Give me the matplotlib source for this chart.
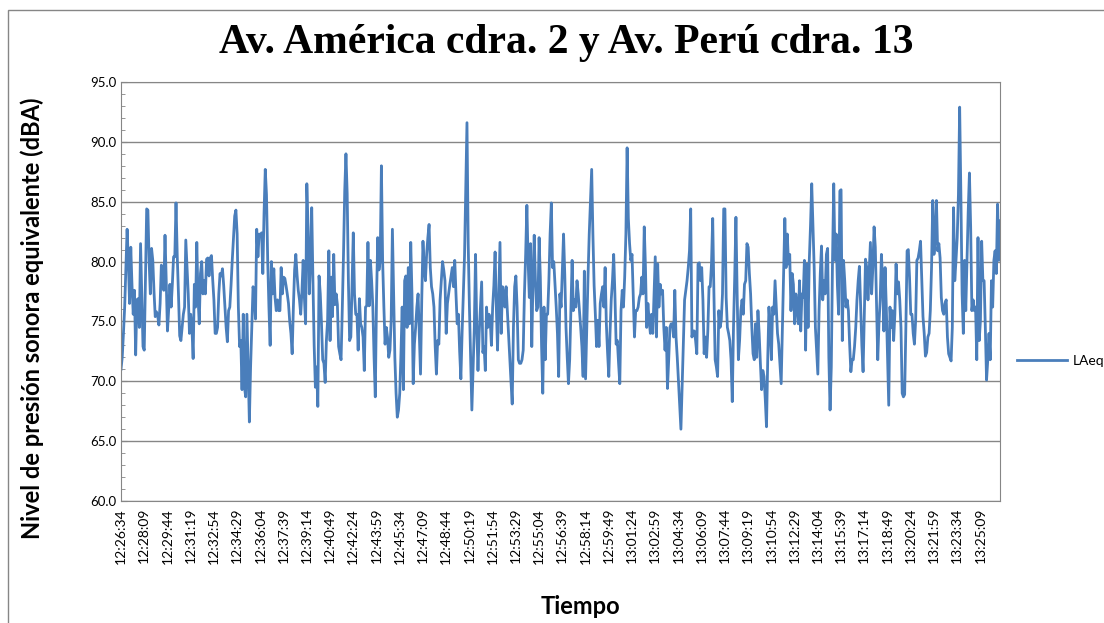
import matplotlib.pyplot as plt
import pandas as pd
from matplotlib.patches import Rectangle
from matplotlib.ticker import MultipleLocator

# LAeq readings, one every 5 s starting 12:26:34
laeq = [
    71.0, 72.0, 74.0, 76.2, 79.5, 82.7, 80.1, 76.5, 81.2, 78.0, 75.6, 77.6, 72.2, 76.8, 76.9, 74.5,
    81.5, 77.0, 72.9, 72.6, 78.5, 84.4, 84.3, 80.0, 77.3, 81.1, 80.1, 77.5, 75.4, 75.8, 75.5, 74.7,
    76.5, 79.7, 78.5, 77.6, 82.2, 78.4, 74.2, 76.0, 78.1, 76.2, 78.1, 80.4, 80.4, 84.9, 80.5, 77.3,
    73.8, 73.4, 74.5, 75.6, 76.2, 81.8, 79.5, 77.3, 74.0, 75.6, 74.5, 71.9, 78.1, 76.2, 81.6, 77.0,
    74.8, 79.0, 80.0, 77.3, 78.4, 77.3, 80.2, 80.3, 78.8, 80.3, 80.5, 78.5, 76.8, 74.0, 74.0, 74.5,
    77.3, 79.0, 78.8, 79.4, 78.0, 76.2, 74.5, 73.3, 75.9, 76.2, 78.0, 80.1, 82.0, 83.8, 84.3, 82.3,
    76.2, 72.9, 73.4, 69.3, 75.6, 69.5, 68.7, 75.6, 70.9, 66.6, 71.2, 74.5, 77.9, 77.3, 75.2, 82.7,
    80.4, 82.3, 82.2, 82.4, 79.0, 84.0, 87.7, 85.6, 80.1, 76.2, 73.0, 80.0, 77.3, 79.4, 77.0, 75.9,
    76.8, 75.9, 75.9, 79.5, 77.3, 78.7, 78.6, 78.0, 77.3, 76.5, 75.0, 74.0, 72.3, 76.2, 79.3, 80.6,
    78.9, 77.6, 76.8, 75.6, 77.5, 80.1, 77.0, 74.8, 86.5, 82.9, 77.3, 80.0, 84.5, 78.4, 73.0, 69.5,
    71.2, 67.9, 78.8, 77.3, 74.8, 71.8, 71.5, 69.9, 73.4, 75.1, 80.9, 73.4, 78.7, 75.4, 80.6, 76.4,
    77.3, 76.4, 72.9, 72.3, 71.8, 76.0, 80.6, 85.9, 89.0, 85.7, 78.4, 73.4, 73.7, 78.0, 82.4, 77.3,
    75.6, 75.6, 72.6, 76.9, 74.8, 74.5, 73.7, 70.9, 76.2, 76.3, 81.6, 76.3, 80.1, 78.4, 76.2, 72.0,
    68.7, 76.8, 82.0, 79.3, 80.1, 88.0, 80.1, 76.3, 73.1, 74.5, 73.7, 72.0, 72.6, 75.1, 82.7, 77.3,
    72.0, 69.0, 67.0, 67.6, 69.0, 72.3, 76.2, 69.3, 78.4, 78.8, 74.5, 79.5, 74.8, 81.6, 77.3, 69.8,
    73.1, 74.5, 76.2, 77.3, 74.0, 70.6, 76.8, 81.7, 79.5, 78.4, 80.6, 82.0, 83.1, 79.5, 77.9, 77.3,
    76.2, 72.9, 70.6, 73.4, 73.1, 76.8, 78.4, 80.0, 79.3, 78.4, 74.0, 76.5, 77.3, 78.1, 78.8, 79.5,
    77.9, 80.1, 77.3, 74.8, 75.6, 72.5, 70.2, 74.0, 77.3, 80.5, 85.9, 91.6, 81.5, 76.2, 71.8, 67.6,
    71.0, 74.5, 80.6, 74.5, 70.9, 74.0, 76.2, 78.3, 72.4, 72.9, 70.9, 76.2, 74.5, 75.6, 75.1, 73.0,
    76.2, 78.0, 80.8, 76.2, 72.6, 77.3, 81.6, 74.0, 77.9, 77.3, 76.2, 77.9, 75.9, 74.0, 72.0, 70.0,
    68.1, 74.5, 77.9, 78.8, 76.2, 71.8, 71.5, 71.5, 71.8, 72.6, 77.3, 80.6, 84.7, 80.1, 77.0, 81.5,
    72.9, 78.4, 82.2, 78.4, 75.9, 76.2, 82.0, 78.7, 73.0, 69.0, 76.2, 71.8, 75.6, 75.6, 78.4, 82.3,
    84.9, 79.5, 80.0, 78.1, 76.2, 74.0, 70.4, 77.3, 76.2, 79.2, 82.3, 78.9, 74.5, 72.0, 69.8, 71.8,
    75.9, 80.1, 75.9, 76.8, 76.2, 78.4, 77.3, 75.9, 74.5, 72.9, 70.4, 79.2, 70.2, 74.5, 78.7, 82.3,
    85.0, 87.7, 82.3, 78.0, 75.6, 72.9, 75.1, 72.9, 76.5, 77.3, 77.9, 76.2, 79.5, 74.8, 72.4, 70.4,
    74.0, 76.8, 78.4, 80.6, 77.3, 73.1, 73.4, 71.5, 69.8, 75.9, 77.6, 76.2, 78.7, 82.3, 89.5, 83.6,
    81.5, 80.1, 80.6, 77.3, 73.7, 75.9, 75.9, 76.2, 77.0, 77.3, 78.7, 77.3, 82.9, 79.5, 74.5, 76.5,
    75.1, 74.0, 75.6, 74.0, 77.3, 80.4, 73.7, 79.8, 76.2, 78.1, 77.3, 77.6, 74.5, 72.6, 74.5, 69.4,
    71.8, 74.5, 74.8, 74.8, 73.7, 77.6, 73.7, 72.0, 70.0, 68.1, 66.0, 69.5, 73.0, 76.8, 77.6, 78.4,
    79.5, 80.9, 84.4, 73.7, 74.2, 74.2, 73.4, 72.3, 79.8, 79.9, 78.4, 79.5, 76.8, 72.3, 73.7, 72.0,
    74.2, 77.9, 77.9, 79.8, 83.6, 77.3, 71.8, 71.2, 70.4, 75.9, 74.5, 75.1, 77.3, 84.4, 84.4, 77.0,
    74.5, 74.0, 73.4, 71.8, 68.3, 74.5, 78.7, 83.7, 77.3, 71.8, 73.4, 75.9, 76.8, 75.6, 78.1, 78.4,
    81.5, 81.2, 79.0, 77.3, 74.5, 72.3, 71.8, 74.8, 72.0, 75.9, 74.0, 71.5, 69.3, 70.9, 70.4, 68.5,
    66.2, 71.8, 76.2, 74.5, 71.8, 76.2, 75.6, 78.4, 76.2, 74.0, 73.1, 71.5, 69.8, 74.5, 79.5, 83.6,
    79.5, 82.3, 79.8, 80.6, 75.9, 79.0, 78.1, 74.8, 77.3, 76.2, 74.8, 78.4, 74.2, 77.3, 77.0, 80.1,
    72.6, 79.8, 74.5, 80.1, 83.0, 86.5, 82.9, 79.5, 74.5, 72.5, 70.6, 75.9, 79.0, 81.3, 76.8, 78.4,
    77.3, 80.6, 81.1, 72.0, 67.6, 71.2, 80.1, 86.5, 80.1, 82.3, 78.0, 75.6, 85.9, 86.0, 73.4, 80.1,
    78.4, 76.2, 76.8, 75.9, 73.1, 70.8, 71.8, 71.8, 72.9, 74.5, 76.8, 78.4, 79.6, 76.2, 73.0, 70.8,
    75.6, 80.2, 79.5, 76.8, 79.2, 81.6, 77.3, 79.5, 82.9, 81.2, 76.5, 71.8, 74.8, 76.8, 80.6, 78.4,
    74.2, 79.5, 76.2, 72.0, 68.0, 76.2, 74.5, 75.9, 73.4, 75.6, 79.8, 77.3, 78.3, 76.8, 74.5, 69.0,
    68.7, 68.9, 74.5, 80.9, 81.0, 78.7, 75.6, 75.6, 74.0, 73.1, 75.1, 80.1, 80.3, 80.9, 81.7, 78.4,
    75.4, 74.0, 72.1, 72.4, 73.7, 74.0, 75.9, 79.5, 85.1, 80.6, 82.0, 85.1, 80.9, 81.5, 80.3, 77.0,
    75.9, 75.6, 76.5, 76.8, 73.7, 72.3, 72.0, 71.7, 74.5, 84.5, 78.4, 80.1, 82.0, 85.6, 92.9, 85.6,
    77.3, 74.0, 80.1, 75.9, 80.1, 84.2, 87.4, 82.9, 75.9, 76.8, 75.9, 76.2, 71.8, 82.0, 73.4, 75.1,
    81.7, 78.4, 78.4, 74.5, 70.1, 71.8, 74.0, 71.8, 78.4, 76.2, 80.1, 80.9, 79.0, 84.8, 80.1, 83.4,
]
start_time = "12:26:34"
step = "5s"
label_every = 19
y_ticks = [60, 65, 70, 75, 80, 85, 90, 95]

times = pd.date_range("2000-01-01 " + start_time, periods=len(laeq), freq=step)
labels = times.strftime("%H:%M:%S")
idx = list(range(len(laeq)))

W, H = 1104, 623
fig = plt.figure(figsize=(W / 100, H / 100), dpi=100)
ax = fig.add_axes([121 / W, 1 - 501 / H, (1000 - 121) / W, (501 - 82) / H])

ax.plot(idx, laeq, color="#4A7EBB", lw=2.0, label="LAeq")

ax.set_xlim(0, len(laeq) - 1)
ax.set_ylim(60, 95)
ax.set_yticks(y_ticks)
ax.set_yticklabels([f"{v:.1f}" for v in y_ticks], fontsize=9.5, family="Lato")
ax.yaxis.set_minor_locator(MultipleLocator(1))
ax.tick_params(axis="y", which="major", length=4, color="#868686", direction="in")
ax.tick_params(axis="y", which="minor", length=3, color="#868686", direction="in")
ax.set_xticks(idx[::label_every])
ax.set_xticklabels(labels[::label_every], rotation=90, fontsize=10, family="Lato")
ax.tick_params(axis="x", length=0, pad=5)
ax.grid(axis="y", color="#868686", lw=1)
ax.set_axisbelow(True)
for s in ax.spines.values():
    s.set_color("#868686")

ax.legend(loc="center left", bbox_to_anchor=(1.005, 0.335), frameon=False,
          handlelength=3.6, handletextpad=0.4, prop={"family": "Lato", "size": 10})

fig.text(566 / W, 1 - 43 / H, "Av. América cdra. 2 y Av. Perú cdra. 13", ha="center",
         va="center", fontsize=30, fontweight="bold", family="Liberation Serif")
fig.text(32 / W, 1 - 318 / H, "Nivel de presión sonora equivalente (dBA)", rotation=90,
         ha="center", va="center", fontsize=17, fontweight="bold", family="Lato")
fig.text(580 / W, 1 - 607 / H, "Tiempo", ha="center", va="center", fontsize=17,
         fontweight="bold", family="Lato")

fig.patches.append(Rectangle((8 / W, -0.1), 1.2, 1 - 10 / H + 0.1, transform=fig.transFigure,
                             fill=False, edgecolor="#868686", lw=1))

fig.savefig("out.png", dpi=100)
